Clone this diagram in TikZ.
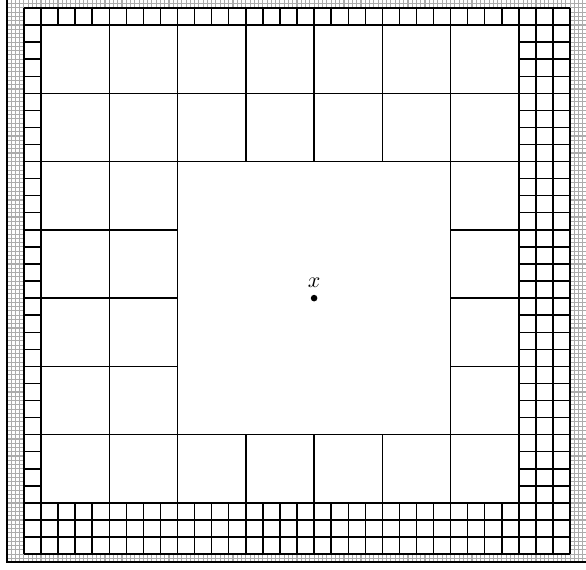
\documentclass[tikz,border=0pt]{standalone}
\begin{document}
\begin{tikzpicture}[x=17.07pt,y=-17.07pt,
  fine/.style={draw=gray!65,line width=1.1pt},
  edge/.style={draw=black,line width=1.4pt},
  frame/.style={draw=black,line width=1.6pt}]
\useasboundingbox (-2.40,-1.465) rectangle (31.93,31.87);
\clip (-2.40,-1.465) rectangle (31.93,31.87);
% fine gray grid in the boundary band
\begin{scope}
\clip (-2,-1.465) rectangle (31.93,31.45);
\foreach \k in {0,...,136} {
  \draw[fine] ({-2+0.25*\k},-1.6) -- ({-2+0.25*\k},31.6);
}
\foreach \k in {0,...,133} {
  \draw[fine] (-2.1,{-1.5+0.25*\k}) -- (32.1,{-1.5+0.25*\k});
}
\end{scope}
% outer frame (left and bottom sides visible)
\draw[frame] (-2,-1.7) -- (-2,31.45) -- (32.2,31.45);
% small squares
\fill[white] (-1,-1) rectangle (31,31);
\foreach \i in {-1,...,31} {
  \draw[edge] (\i,-1) -- (\i,31);
  \draw[edge] (-1,\i) -- (31,\i);
}
% large squares
\fill[white] (0,0) rectangle (28,28);
\foreach \i in {0,4,...,28} {
  \draw[edge] (\i,0) -- (\i,28);
  \draw[edge] (0,\i) -- (28,\i);
}
% central square
\fill[white] (8,8) rectangle (24,24);
\draw[edge] (8,8) rectangle (24,24);
% point x
\node[circle,fill=black,inner sep=0pt,minimum size=6.6pt] (pt) at (16,16) {};
\node[inner sep=0pt,scale=2.2] (lab) at (16,15.08) {$x$};
\end{tikzpicture}
\end{document}
